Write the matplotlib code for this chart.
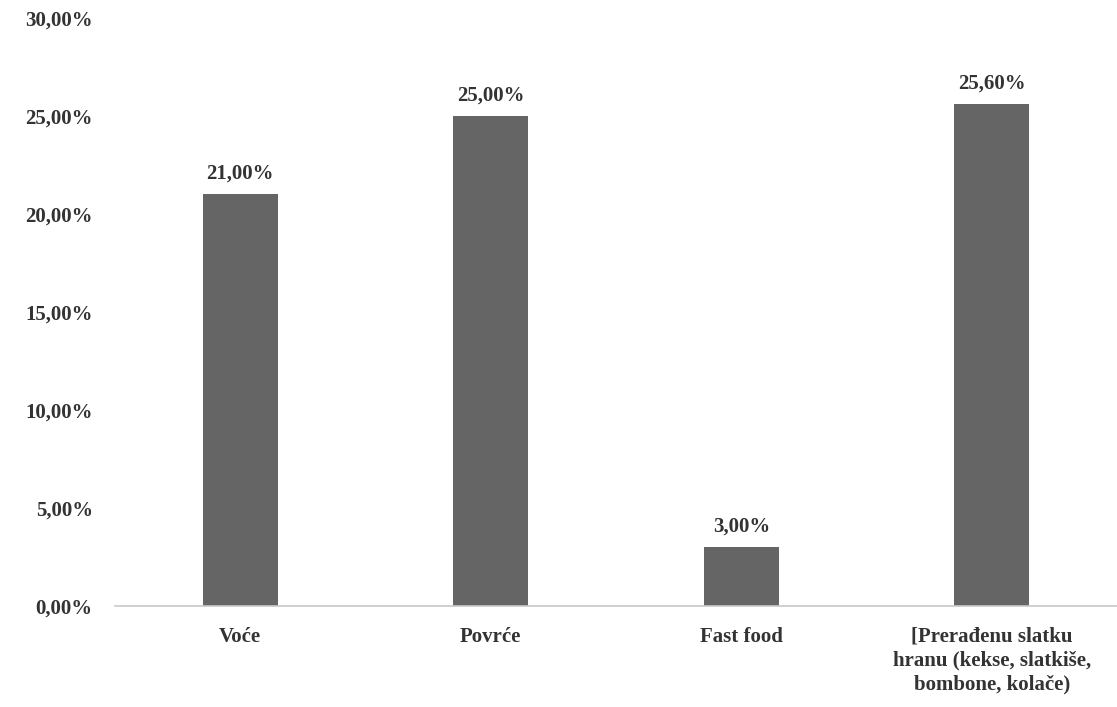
import matplotlib
matplotlib.use("Agg")
import matplotlib.pyplot as plt
from matplotlib.ticker import FuncFormatter

categories = ["Voće", "Povrće", "Fast food", "[Prerađenu slatku\nhranu (kekse, slatkiše,\nbombone, kolače)"]
values = [21.00, 25.00, 3.00, 25.60]
yticks = [0, 5, 10, 15, 20, 25, 30]

plt.rcParams['font.family'] = ['Liberation Serif', 'DejaVu Serif']

fig = plt.figure(figsize=(11.17, 7.07), dpi=100)
ax = fig.add_axes([115/1117, 101/707, 1 - 115/1117, (606-18)/707])

x = range(len(categories))
bars = ax.bar(x, values, width=0.3, color="#656565")
for xi, v in zip(x, values):
    ax.text(xi, v + 0.55, f"{v:.2f}%".replace(".", ","), ha="center", va="bottom",
            fontsize=15, fontweight="bold", color="#333333")

ax.set_xlim(-0.5, len(categories) - 0.5)
ax.set_ylim(0, 30)
ax.set_yticks(yticks)
ax.yaxis.set_major_formatter(FuncFormatter(lambda v, p: f"{v:.2f}%".replace(".", ",")))
ax.set_xticks(list(x))
ax.set_xticklabels(categories, fontsize=15, fontweight="bold", color="#333333", linespacing=1.25)
for lab in ax.get_yticklabels():
    lab.set_fontsize(15)
    lab.set_fontweight("bold")
    lab.set_color("#333333")
ax.tick_params(axis="x", length=0, pad=15)
ax.tick_params(axis="y", length=0, pad=16)
for s in ["top", "right", "left"]:
    ax.spines[s].set_visible(False)
ax.spines["bottom"].set_color("#c8c8c8")
ax.spines["bottom"].set_linewidth(1.2)

fig.savefig("out.png", dpi=100)
